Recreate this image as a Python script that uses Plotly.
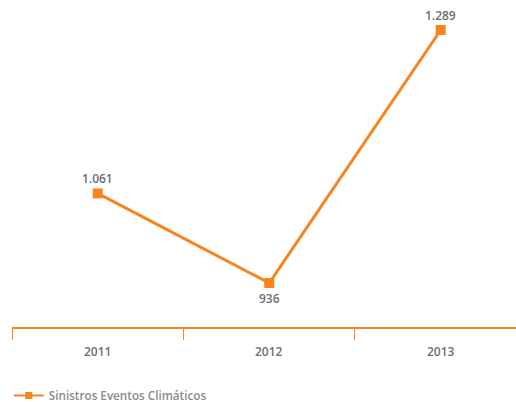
import plotly.graph_objects as go

years = ["2011", "2012", "2013"]
sinistros = [1061, 936, 1289]
label_side = [1, -1, 1]  # 1 = label above the point, -1 = below
series_name = "Sinistros Eventos Climáticos"

orange = "#f7841f"
gray = "#6d6e71"

x_idx = list(range(len(years)))

fig = go.Figure()
fig.add_trace(go.Scatter(
    x=x_idx, y=sinistros,
    mode="lines+markers",
    name=series_name,
    showlegend=False,
    line=dict(color=orange, width=3),
    marker=dict(symbol="square", size=10, color=orange),
    cliponaxis=False,
))

# legend entry with a slimmer line and smaller marker
fig.add_trace(go.Scatter(
    x=[None], y=[None],
    mode="lines+markers",
    name=series_name,
    line=dict(color=orange, width=2),
    marker=dict(symbol="square", size=7, color=orange),
))

# value labels (dot as thousands separator)
for i, (v, side) in enumerate(zip(sinistros, label_side)):
    fig.add_annotation(
        x=i, y=v, xref="x", yref="y", yanchor="middle", yshift=15 * side,
        text=f"{v:,}".replace(",", "."), showarrow=False,
        font=dict(family="Open Sans", size=12, color=gray, weight=600),
    )

# year labels centred between the category boundary ticks
for i, yr in enumerate(years):
    fig.add_annotation(
        x=i, y=0, xref="x", yref="paper", yanchor="top", yshift=-14,
        text=yr, showarrow=False,
        font=dict(family="Open Sans", size=12, color=gray, weight=600),
    )

fig.update_layout(
    width=516, height=402,
    margin=dict(l=12, r=0, t=0, b=75, autoexpand=False),
    paper_bgcolor="white", plot_bgcolor="white",
    showlegend=True,
    legend=dict(
        orientation="h",
        xref="container", x=0.017, xanchor="left",
        yref="container", y=0.016, yanchor="middle",
        font=dict(family="Open Sans", size=11.7, color="#8a8b8d", weight=600),
        bgcolor="rgba(0,0,0,0)",
    ),
    xaxis=dict(
        range=[-0.5, 2.439],
        tickvals=[-0.5, 0.5, 1.5],
        showticklabels=False,
        ticks="outside", ticklen=11, tickcolor=orange, tickwidth=1,
        showline=True, linecolor=orange, linewidth=2,
        showgrid=False, zeroline=False,
    ),
    yaxis=dict(
        range=[874.6, 1330.9],
        visible=False, showgrid=False, zeroline=False,
    ),
)

fig.write_html("out.html")
